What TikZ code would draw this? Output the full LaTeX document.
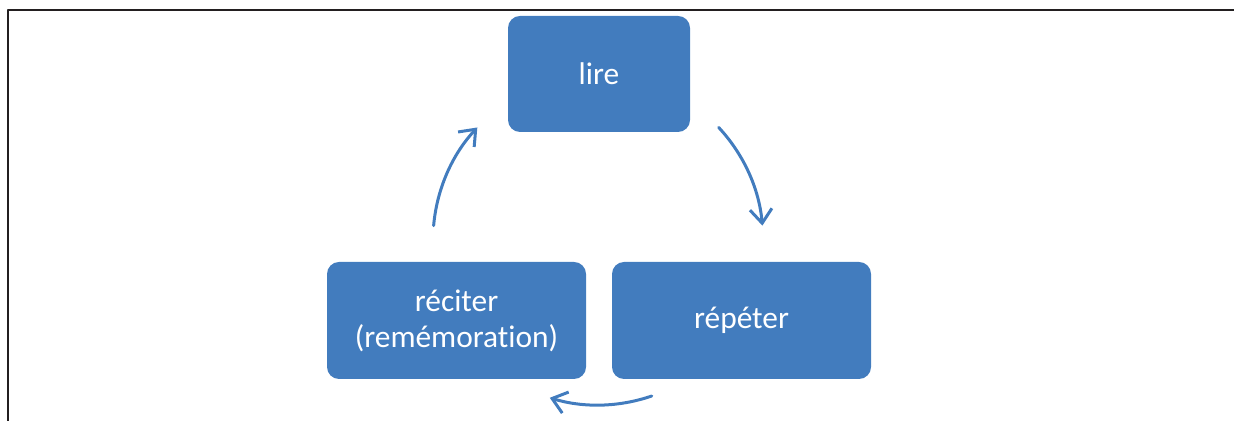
\documentclass[tikz,border=0pt]{standalone}
\usepackage{fontspec}
\setmainfont{Carlito}[Ligatures=NoCommon]
\usetikzlibrary{arrows.meta}
\definecolor{cycblue}{RGB}{66,124,190}
\definecolor{framegray}{RGB}{35,31,32}

\begin{document}
\begin{tikzpicture}[line cap=round,line join=round,x=0.5pt,y=0.5pt,
	stepbox/.style={draw=none,fill=cycblue,rounded corners=6pt,text=white,align=center,
		minimum width=129.5pt,minimum height=58.5pt,font=\fontsize{15.7}{18}\selectfont},
	cycarrow/.style={draw=cycblue,line width=1.5pt,-{Straight Barb[length=7pt,width=11pt,line width=1.5pt]}}]
			\useasboundingbox (0,0) rectangle (1234,421);
			\draw[framegray,line width=1pt,line cap=butt] (8,0)-- (8,411)-- (1234,411);
			\node[stepbox,minimum width=91pt,minimum height=58pt] (lire) at (599,347) {lire};
			\node[stepbox] (repeter) at (741.5,100.5) {répéter};
			\node[stepbox] (reciter) at (456.5,100.5) {réciter\\(remémoration)};
			\coordinate (ctr) at (598,181);
			\draw[cycarrow] ([shift={(43:165)}]ctr) arc[start angle=43,end angle=5,radius=165];
			\draw[cycarrow] ([shift={(-71:165)}]ctr) arc[start angle=-71,end angle=-107,radius=165];
			\draw[cycarrow] ([shift={(175:165)}]ctr) arc[start angle=175,end angle=137,radius=165];
\end{tikzpicture}
\end{document}
